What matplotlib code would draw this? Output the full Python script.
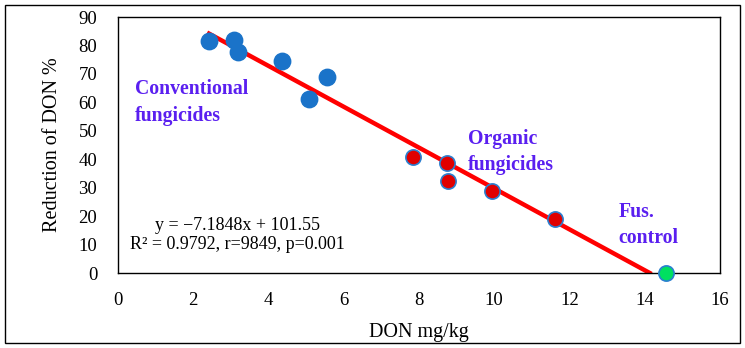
import matplotlib.pyplot as plt
from matplotlib.patches import Rectangle
import numpy as np

plt.rcParams['font.family'] = ['Liberation Serif', 'DejaVu Serif']

# data
conv_x = [2.42, 3.09, 3.19, 4.36, 5.56, 5.08]
conv_y = [81.6, 81.9, 77.7, 74.5, 68.9, 61.2]
org_x = [7.85, 8.75, 8.78, 9.95, 11.62]
org_y = [40.8, 38.7, 32.3, 28.8, 19.0]
ctrl_x = [14.57]
ctrl_y = [0.0]
slope = -7.1848
intercept = 101.55
fit_x = [2.42, 14.13]

fig = plt.figure(figsize=(7.45, 3.48), dpi=100)
ax = fig.add_axes([118/745, 1-273/348, (720-118)/745, (273-17)/348])

# trend line
fx = np.array(fit_x)
ax.plot(fx, slope*fx + intercept, color='#ff0000', linewidth=3.2, zorder=2)

ax.scatter(conv_x, conv_y, s=140, color='#1a73c9', edgecolors='#1a73c9', zorder=3)
ax.scatter(org_x, org_y, s=120, color='#e00000', edgecolors='#2a7fd0', linewidths=1.2, zorder=3)
ax.scatter(ctrl_x, ctrl_y, s=120, color='#00e060', edgecolors='#2a7fd0', linewidths=1.2, zorder=3, clip_on=False)

ax.set_xlim(0, 16)
ax.set_ylim(0, 90)
ax.set_xticks(range(0, 17, 2))
ax.set_yticks(range(0, 91, 10))
ax.tick_params(length=0, labelsize=13.5)
ax.tick_params(axis='y', pad=15)
ax.tick_params(axis='x', pad=14)
for s in ax.spines.values():
    s.set_linewidth(1.0)

ax.set_xlabel('DON mg/kg', fontsize=14.5, labelpad=10)
ax.set_ylabel('Reduction of DON %', fontsize=14.5, labelpad=12)

lab = dict(color='#5a1ff0', fontsize=14.2, fontweight='bold', linespacing=1.45)
ax.text(0.45, 60, 'Conventional\nfungicides', va='center', ha='left', **lab)
ax.text(9.3, 42.5, 'Organic\nfungicides', va='center', ha='left', **lab)
ax.text(13.3, 16.9, 'Fus.\ncontrol', va='center', ha='left', **lab)

ax.text(3.18, 16.8, 'y = \u22127.1848x + 101.55', ha='center', va='center', fontsize=13)
ax.text(3.18, 10.0, 'R\u00b2 = 0.9792, r=9849, p=0.001', ha='center', va='center', fontsize=13)

fig.patches.append(Rectangle((5/745, 5/348), 735/745, 338/348, transform=fig.transFigure,
                             fill=False, edgecolor='black', linewidth=1.0))

fig.savefig('out.png', dpi=100)
